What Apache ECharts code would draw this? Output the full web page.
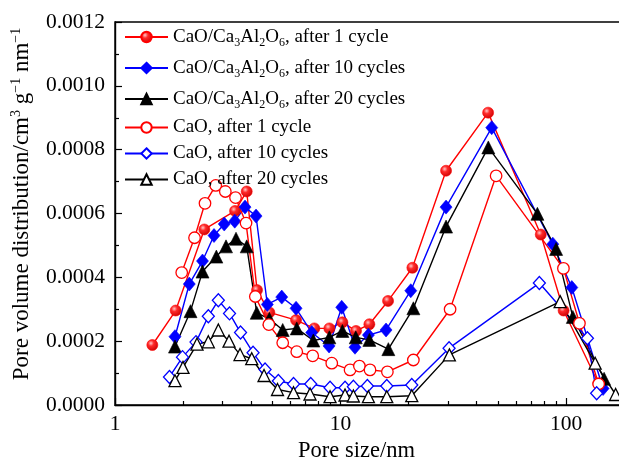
<!DOCTYPE html>
<html>
<head>
<meta charset="utf-8">
<script src="https://cdn.jsdelivr.net/npm/echarts@6/dist/echarts.min.js"></script>
<style>
  html, body { margin: 0; padding: 0; background: #fff; }
  #chart { width: 619px; height: 459px; }
</style>
</head>
<body>
<div id="chart"></div>
<script>
// Pore size distribution (BJH) of sorbents after 1, 10 and 20 cycles

// CaO/Ca3Al2O6, after 1 cycle
const sizeComp1 = [1.464, 1.858, 2.489, 3.406, 3.837, 4.263, 4.834, 6.349, 7.651, 8.920, 10.19, 11.71, 13.42, 16.24, 20.82, 29.36, 45.1, 77.2, 97.5, 139.1];
const volComp1  = [0.000188, 0.000296, 0.000550, 0.000608, 0.000669, 0.000360, 0.000290, 0.000266, 0.000240, 0.000240, 0.000259, 0.000232, 0.000253, 0.000326, 0.000430, 0.000734, 0.000916, 0.000534, 0.000296, 0.0000674];

// CaO/Ca3Al2O6, after 10 cycles
const sizeComp10 = [1.845, 2.135, 2.443, 2.748, 3.050, 3.395, 3.771, 4.220, 4.736, 5.486, 6.349, 7.451, 8.893, 10.12, 11.59, 13.29, 15.91, 20.48, 29.36, 46.8, 87.3, 106.0, 145.9];
const volComp10  = [0.000214, 0.000379, 0.000451, 0.000531, 0.000567, 0.000576, 0.000620, 0.000592, 0.000315, 0.000338, 0.000303, 0.000227, 0.000185, 0.000306, 0.000181, 0.000219, 0.000235, 0.000358, 0.000620, 0.000869, 0.000504, 0.000368, 0.0000517];

// CaO/Ca3Al2O6, after 20 cycles
const sizeComp20 = [1.845, 2.162, 2.443, 2.814, 3.106, 3.440, 3.837, 4.250, 4.834, 5.541, 6.394, 7.574, 8.920, 10.19, 11.68, 13.42, 16.29, 21.03, 29.36, 45.2, 74.6, 90.3, 107.1, 147.4];
const volComp20  = [0.000183, 0.000294, 0.000418, 0.000465, 0.000497, 0.000521, 0.000497, 0.000289, 0.000270, 0.000235, 0.000240, 0.000202, 0.000212, 0.000232, 0.000212, 0.000204, 0.000175, 0.000303, 0.000559, 0.000807, 0.000599, 0.000489, 0.000276, 0.0000821];

// CaO, after 1 cycle
const sizeCaO1 = [1.976, 2.252, 2.506, 2.797, 3.084, 3.422, 3.810, 4.190, 4.809, 5.541, 6.394, 7.527, 9.142, 11.02, 12.12, 13.51, 16.13, 21.03, 30.59, 48.94, 97.3, 114.6, 139.4];
const volCaO1  = [0.000415, 0.000524, 0.000632, 0.000688, 0.000669, 0.000650, 0.000570, 0.000340, 0.000252, 0.000195, 0.000167, 0.000154, 0.000131, 0.000110, 0.000122, 0.000110, 0.000104, 0.000141, 0.000300, 0.000718, 0.000428, 0.000256, 0.0000658];

// CaO, after 10 cycles
const sizeCaO10 = [1.744, 1.992, 2.287, 2.593, 2.872, 3.219, 3.602, 4.093, 4.627, 5.300, 6.188, 7.375, 8.984, 10.47, 11.40, 13.15, 16.03, 20.69, 30.28, 76.1, 124.3, 136.6];
const volCaO10  = [0.0000878, 0.000150, 0.000197, 0.000278, 0.000328, 0.000287, 0.000227, 0.000164, 0.000111, 0.0000752, 0.0000658, 0.0000658, 0.0000542, 0.0000542, 0.0000574, 0.0000596, 0.0000596, 0.0000627, 0.000178, 0.000382, 0.000209, 0.0000367];

// CaO, after 20 cycles
const sizeCaO20 = [1.845, 2.002, 2.310, 2.593, 2.872, 3.203, 3.584, 4.039, 4.579, 5.254, 6.188, 7.323, 8.984, 10.47, 11.40, 13.29, 16.03, 20.69, 30.37, 94.1, 134.5, 165.8];
const volCaO20  = [0.0000762, 0.000118, 0.000191, 0.000198, 0.000235, 0.000200, 0.000158, 0.000145, 0.0000925, 0.0000486, 0.0000386, 0.0000345, 0.0000260, 0.0000313, 0.0000282, 0.0000260, 0.0000260, 0.0000292, 0.000157, 0.000324, 0.000131, 0.0000329];

// Axis tick values
const xMajorTicks = [1, 10, 100];
const xMinorTicks = [2, 3, 4, 5, 6, 7, 8, 9, 20, 30, 40, 50, 60, 70, 80, 90, 200];

const seriesNames = [
  'CaO/Ca3Al2O6, after 1 cycle',
  'CaO/Ca3Al2O6, after 10 cycles',
  'CaO/Ca3Al2O6, after 20 cycles',
  'CaO, after 1 cycle',
  'CaO, after 10 cycles',
  'CaO, after 20 cycles'
];

const FONT = 'Liberation Serif';
const RED = '#ff0000', BLUE = '#0000ff', BLACK = '#000000';

function pairs(xs, ys) {
  return xs.map((x, i) => [x, ys[i]]);
}

const redBall = {
  type: 'radial', x: 0.38, y: 0.35, r: 0.7,
  colorStops: [
    { offset: 0, color: '#ffc8c8' },
    { offset: 0.35, color: '#ff2a2a' },
    { offset: 1, color: '#c80000' }
  ]
};

function filledSeries(name, xs, ys, color, symbol, size, fill) {
  return {
    name, type: 'line', data: pairs(xs, ys),
    symbol, symbolSize: size,
    lineStyle: { color, width: 1.4 },
    itemStyle: { color: fill || color, borderColor: color, borderWidth: 0.6 },
    emphasis: { disabled: true },
    animation: false
  };
}

function openSeries(name, xs, ys, color, symbol, size) {
  return {
    name, type: 'line', data: pairs(xs, ys),
    symbol, symbolSize: size,
    lineStyle: { color, width: 1.4 },
    itemStyle: { color: '#ffffff', borderColor: color, borderWidth: 1.3 },
    emphasis: { disabled: true },
    animation: false
  };
}

const chart = echarts.init(document.getElementById('chart'), null, { renderer: 'canvas' });

const legendRich = {
  n: { fontFamily: FONT, fontSize: 19, lineHeight: 20, color: '#000' },
  s: { fontFamily: FONT, fontSize: 12, lineHeight: 12, padding: [12, 0, 0, 0], color: '#000' }
};

function legendLabel(name) {
  const prefix = 'CaO/Ca3Al2O6';
  if (name.indexOf(prefix) === 0) {
    return '{n|CaO/Ca}{s|3}{n|Al}{s|2}{n|O}{s|6}{n|' + name.slice(prefix.length) + '}';
  }
  return '{n|' + name + '}';
}

const option = {
  backgroundColor: '#ffffff',
  animation: false,
  grid: {
    left: 115, top: 22, bottom: 54, right: -15,
    show: true, borderColor: '#000', borderWidth: 1.4,
    containLabel: false, outerBoundsMode: 'none'
  },
  legend: {
    orient: 'vertical', left: 119, top: 20,
    itemGap: 7, itemWidth: 43, itemHeight: 13,
    data: seriesNames,
    formatter: legendLabel,
    textStyle: { fontFamily: FONT, fontSize: 19, color: '#000', rich: legendRich },
    selectedMode: false
  },
  xAxis: [
    {
      type: 'log', logBase: 10, min: 1, max: 200,
      name: 'Pore size/nm', nameLocation: 'middle', nameGap: 32,
      nameTextStyle: { fontFamily: FONT, fontSize: 22.5, color: '#000', padding: [0, 36, 0, 0] },
      axisLine: { show: true, lineStyle: { color: '#000', width: 1.4 } },
      axisTick: { show: true, inside: true, length: 7, customValues: xMajorTicks, lineStyle: { color: '#000', width: 1.2 } },
      axisLabel: { show: true, margin: 8, customValues: xMajorTicks, fontFamily: FONT, fontSize: 21.5, color: '#000', formatter: v => String(Math.round(v)) },
      splitLine: { show: false }
    },
    {
      type: 'log', logBase: 10, min: 1, max: 200, position: 'bottom',
      axisLine: { show: false },
      axisTick: { show: true, inside: true, length: 4, customValues: xMinorTicks, lineStyle: { color: '#000', width: 1.2 } },
      axisLabel: { show: false },
      splitLine: { show: false }
    }
  ],
  yAxis: {
    type: 'value', min: 0, max: 0.0012, interval: 0.0002,
    name: 'Pore volume distribution/cm{p|3} g{p|\u22121} nm{p|\u22121}',
    nameLocation: 'middle', nameGap: 69,
    nameTextStyle: {
      fontFamily: FONT, fontSize: 23, color: '#000', lineHeight: 26, padding: [0, 0, 0, 19],
      rich: { p: { fontFamily: FONT, fontSize: 14, lineHeight: 14, padding: [0, 0, 12, 0], color: '#000' } }
    },
    axisLine: { show: true, lineStyle: { color: '#000', width: 1.4 } },
    axisTick: { show: true, inside: true, length: 7, lineStyle: { color: '#000', width: 1.2 } },
    minorTick: { show: true, splitNumber: 2, length: 4, lineStyle: { color: '#000', width: 1.2 } },
    axisLabel: { margin: 10, fontFamily: FONT, fontSize: 21.5, color: '#000', formatter: v => v.toFixed(4) },
    splitLine: { show: false }
  },
  series: [
    filledSeries(seriesNames[0], sizeComp1, volComp1, RED, 'circle', 11, redBall),
    filledSeries(seriesNames[1], sizeComp10, volComp10, BLUE, 'diamond', [12, 14]),
    filledSeries(seriesNames[2], sizeComp20, volComp20, BLACK, 'triangle', 13),
    openSeries(seriesNames[3], sizeCaO1, volCaO1, RED, 'circle', 11.5),
    openSeries(seriesNames[4], sizeCaO10, volCaO10, BLUE, 'diamond', [12, 13]),
    openSeries(seriesNames[5], sizeCaO20, volCaO20, BLACK, 'triangle', 12)
  ]
};

chart.setOption(option);
</script>
</body>
</html>
